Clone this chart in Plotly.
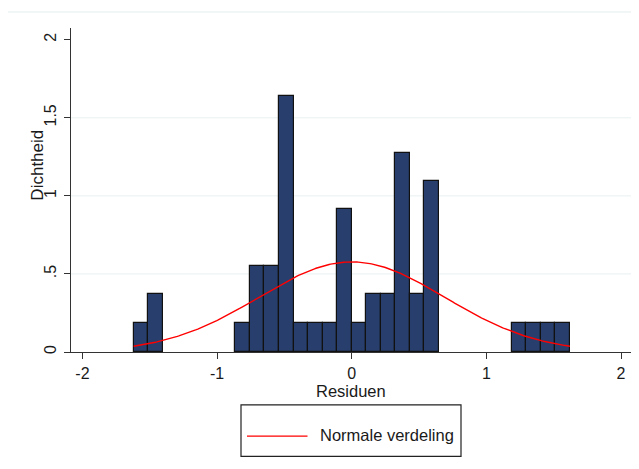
import numpy as np
import plotly.graph_objects as go

# ---- data ----
bin_lo = -1.62          # left edge of first bin
bin_hi = 1.62           # right edge of last bin
n_bins = 30
densities = [0.188, 0.37, 0, 0, 0, 0, 0,
             0.188, 0.55, 0.55, 1.64, 0.188, 0.188, 0.188, 0.915, 0.188,
             0.37, 0.37, 1.276, 0.37, 1.094,
             0, 0, 0, 0, 0,
             0.188, 0.188, 0.188, 0.188]
normal_mean = 0.0
normal_sd = 0.691
x_ticks = [-2, -1, 0, 1, 2]
x_ticklabels = ["-2", "-1", "0", "1", "2"]
y_ticks = [0, 0.5, 1, 1.5, 2]
y_ticklabels = ["0", ".5", "1", "1.5", "2"]
grid_vals = [0.5, 1, 1.5]
x_title = "Residuen"
y_title = "Dichtheid"
legend_label = "Normale verdeling"

# ---- derived ----
w = (bin_hi - bin_lo) / n_bins
centers = [bin_lo + w * (i + 0.5) for i in range(n_bins)]
bx = [c for c, d in zip(centers, densities) if d > 0]
by = [d for d in densities if d > 0]

xs = np.linspace(bin_lo, bin_hi, 300)
ys = np.exp(-0.5 * ((xs - normal_mean) / normal_sd) ** 2) / (normal_sd * np.sqrt(2 * np.pi))

FONT = "Liberation Sans, Arial, sans-serif"

fig = go.Figure()
fig.add_trace(go.Bar(x=bx, y=by, width=w,
                     marker=dict(color="#283f6e", line=dict(color="#111111", width=1.2)),
                     showlegend=False))
fig.add_trace(go.Scatter(x=xs, y=ys, mode="lines",
                         line=dict(color="#ff0000", width=1.4), showlegend=False))

# page body has an 8px default margin: compensate
OFF = 8
W, H = 639 - OFF, 469 - OFF
plot_left, plot_right, plot_top, plot_bottom = 71, 631, 28, 351.7   # in window pixels
L = plot_left - OFF
R = (W + OFF) - plot_right
T = plot_top - OFF
B = (H + OFF) - plot_bottom
pw, ph = W - L - R, H - T - B

def px(xp):
    return (xp - plot_left) / pw

def py(yp):
    return (plot_bottom - yp) / ph

shapes = []
for g in grid_vals:
    shapes.append(dict(type="line", xref="paper", yref="y", x0=0, x1=1, y0=g, y1=g,
                       line=dict(color="#e9f0f1", width=1), layer="below"))
# thin rule at top (slide header)
shapes.append(dict(type="line", xref="paper", yref="paper", x0=px(8), x1=px(639),
                   y0=py(12), y1=py(12), line=dict(color="#e3ecee", width=1)))
# legend box
shapes.append(dict(type="rect", xref="paper", yref="paper", x0=px(241), x1=px(461),
                   y0=py(404.5), y1=py(456), line=dict(color="#222222", width=1.2),
                   fillcolor="white"))
shapes.append(dict(type="line", xref="paper", yref="paper", x0=px(247), x1=px(307.5),
                   y0=py(435.7), y1=py(435.7), line=dict(color="#ff0000", width=1.4)))

annotations = [
    dict(text=legend_label, xref="paper", yref="paper", x=px(318), y=py(435),
         xanchor="left", yanchor="middle", showarrow=False,
         font=dict(family=FONT, size=16.5, color="#1a1a1a")),
    dict(text=x_title, xref="paper", yref="paper", x=0.5, y=py(380),
         xanchor="center", yanchor="top", showarrow=False,
         font=dict(family=FONT, size=16.5, color="#1a1a1a")),
    dict(text=y_title, xref="paper", yref="paper", x=px(26), y=py(165),
         xanchor="left", yanchor="middle", textangle=-90, showarrow=False,
         font=dict(family=FONT, size=17, color="#1a1a1a")),
]

fig.update_layout(
    width=W, height=H,
    margin=dict(l=L, r=R, t=T, b=B, autoexpand=False),
    paper_bgcolor="white", plot_bgcolor="white",
    bargap=0,
    font=dict(family=FONT, size=16, color="#1a1a1a"),
    shapes=shapes, annotations=annotations,
    xaxis=dict(range=[-2.085, 2.074], tickvals=x_ticks, ticktext=x_ticklabels,
               ticks="outside", ticklen=6, tickcolor="#333333", showgrid=False,
               showline=True, linecolor="#333333", linewidth=1.2, zeroline=False,
               ticklabelstandoff=1,
               tickfont=dict(family=FONT, size=16, color="#1a1a1a")),
    yaxis=dict(range=[0, 2.075], tickvals=y_ticks, ticktext=y_ticklabels,
               tickangle=-90, ticks="outside", ticklen=6, tickcolor="#333333",
               showgrid=False, showline=True, linecolor="#333333", linewidth=1.2,
               zeroline=False, ticklabelstandoff=2,
               tickfont=dict(family=FONT, size=16, color="#1a1a1a")),
)

fig.write_html("out.html")
